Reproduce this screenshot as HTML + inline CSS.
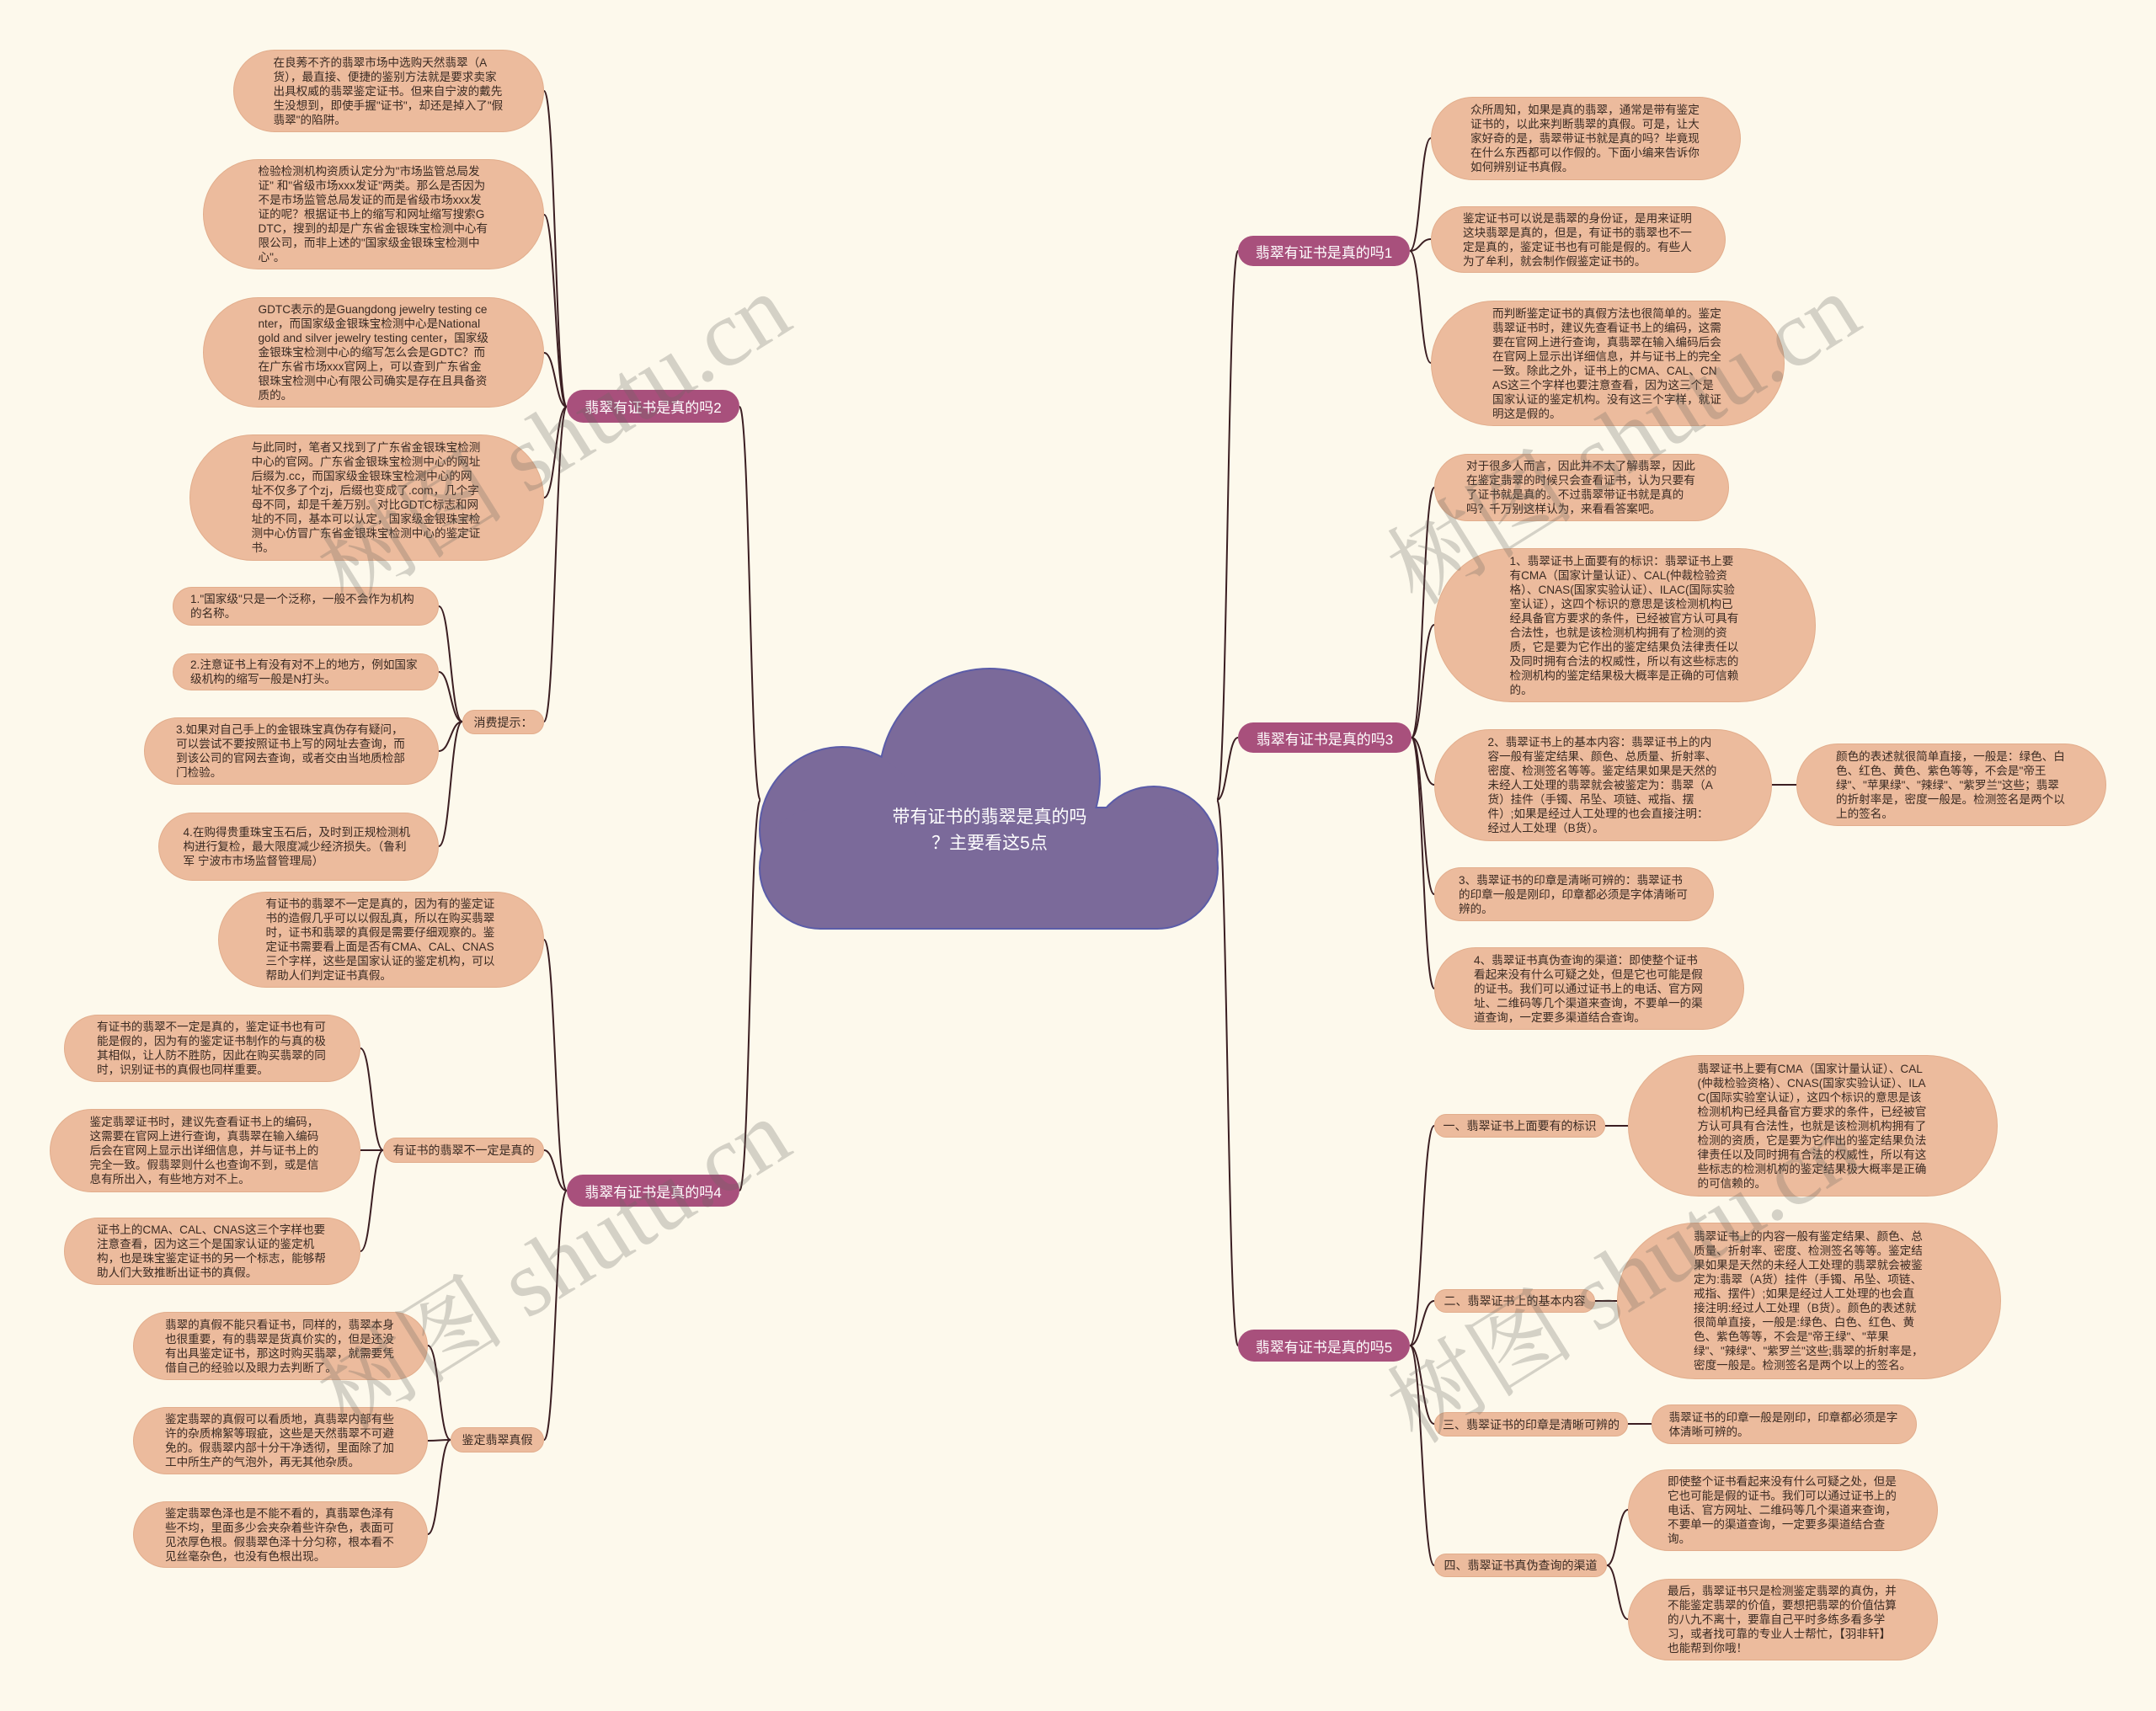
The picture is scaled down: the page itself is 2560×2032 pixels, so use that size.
<!DOCTYPE html>
<html><head><meta charset="utf-8">
<style>
html,body{margin:0;padding:0}
body{width:2560px;height:2032px;position:relative;background:#fdf9ec;overflow:hidden;font-family:"Liberation Sans","Noto Sans CJK SC",sans-serif}
.n{position:absolute;background:#ecbb9d;border:1.5px solid #e2ad8c;box-sizing:border-box;border-radius:200px;display:flex;align-items:center;justify-content:center;color:#3a2a22}
.n .t{width:274px;font-size:13.6px;line-height:17px;text-align:left;word-break:break-all}
.m{position:absolute;background:#ecbb9d;border:1.5px solid #e2ad8c;box-sizing:border-box;border-radius:40px;display:flex;align-items:center;justify-content:center;font-size:14px;color:#3a2a22;white-space:nowrap}
.L{position:absolute;background:#a8507c;border-radius:40px;display:flex;align-items:center;justify-content:center;font-size:17px;color:#fff;white-space:nowrap}
svg{position:absolute;left:0;top:0}
.wm{position:absolute;font-family:"Liberation Serif","Noto Serif CJK SC",serif;font-size:112px;color:rgba(105,105,95,0.27);white-space:nowrap;transform:translate(-50%,-50%) rotate(-32deg);pointer-events:none;z-index:5}
</style></head><body>
<svg id="lines" width="2560" height="2032"></svg>
<svg width="2560" height="2032">
 <g fill="none" stroke="#5b5ca8" stroke-width="4">
  <circle cx="1175" cy="925" r="130"/><circle cx="1000" cy="985" r="97"/><circle cx="1370" cy="1010" r="75"/><rect x="903" y="960" width="542" height="142" rx="71"/>
 </g>
 <g fill="#7b6a9a">
  <circle cx="1175" cy="925" r="130"/><circle cx="1000" cy="985" r="97"/><circle cx="1370" cy="1010" r="75"/><rect x="903" y="960" width="542" height="142" rx="71"/>
 </g>
</svg>
<div style="position:absolute;left:1000px;top:955px;width:350px;text-align:center;color:#fff;font-size:21px;line-height:31px">带有证书的翡翠是真的吗<br>？主要看这5点</div>

<div class="L" style="left:673px;top:463px;width:205px;height:39px">翡翠有证书是真的吗2</div>
<div class="L" style="left:673px;top:1395px;width:205px;height:38px">翡翠有证书是真的吗4</div>
<div class="L" style="left:1470px;top:280px;width:204px;height:36px">翡翠有证书是真的吗1</div>
<div class="L" style="left:1470px;top:858px;width:206px;height:36px">翡翠有证书是真的吗3</div>
<div class="L" style="left:1470px;top:1579px;width:204px;height:38px">翡翠有证书是真的吗5</div>

<div class="n" style="left:277px;top:59px;width:369px;height:98px"><div class="t">在良莠不齐的翡翠市场中选购天然翡翠（A货），最直接、便捷的鉴别方法就是要求卖家出具权威的翡翠鉴定证书。但来自宁波的戴先生没想到，即使手握"证书"，却还是掉入了"假翡翠"的陷阱。</div></div>
<div class="n" style="left:241px;top:189px;width:405px;height:131px"><div class="t">检验检测机构资质认定分为"市场监管总局发证" 和"省级市场xxx发证"两类。那么是否因为不是市场监管总局发证的而是省级市场xxx发证的呢？根据证书上的缩写和网址缩写搜索GDTC，搜到的却是广东省金银珠宝检测中心有限公司，而非上述的"国家级金银珠宝检测中心"。</div></div>
<div class="n" style="left:241px;top:353px;width:405px;height:131px"><div class="t">GDTC表示的是Guangdong jewelry testing center，而国家级金银珠宝检测中心是National gold and silver jewelry testing center，国家级金银珠宝检测中心的缩写怎么会是GDTC？而在广东省市场xxx官网上，可以查到广东省金银珠宝检测中心有限公司确实是存在且具备资质的。</div></div>
<div class="n" style="left:225px;top:516px;width:421px;height:150px"><div class="t">与此同时，笔者又找到了广东省金银珠宝检测中心的官网。广东省金银珠宝检测中心的网址后缀为.cc，而国家级金银珠宝检测中心的网址不仅多了个zj，后缀也变成了.com，几个字母不同，却是千差万别。对比GDTC标志和网址的不同，基本可以认定，国家级金银珠宝检测中心仿冒广东省金银珠宝检测中心的鉴定证书。</div></div>
<div class="m" style="left:549px;top:843px;width:97px;height:29px">消费提示：</div>
<div class="n" style="left:205px;top:697px;width:316px;height:46px"><div class="t">1."国家级"只是一个泛称，一般不会作为机构的名称。</div></div>
<div class="n" style="left:205px;top:776px;width:316px;height:44px"><div class="t">2.注意证书上有没有对不上的地方，例如国家级机构的缩写一般是N打头。</div></div>
<div class="n" style="left:171px;top:852px;width:350px;height:80px"><div class="t">3.如果对自己手上的金银珠宝真伪存有疑问，可以尝试不要按照证书上写的网址去查询，而到该公司的官网去查询，或者交由当地质检部门检验。</div></div>
<div class="n" style="left:188px;top:965px;width:333px;height:81px"><div class="t">4.在购得贵重珠宝玉石后，及时到正规检测机构进行复检，最大限度减少经济损失。（鲁利军 宁波市市场监督管理局）</div></div>

<div class="n" style="left:259px;top:1059px;width:387px;height:114px"><div class="t">有证书的翡翠不一定是真的，因为有的鉴定证书的造假几乎可以以假乱真，所以在购买翡翠时，证书和翡翠的真假是需要仔细观察的。鉴定证书需要看上面是否有CMA、CAL、CNAS三个字样，这些是国家认证的鉴定机构，可以帮助人们判定证书真假。</div></div>
<div class="m" style="left:455px;top:1351px;width:191px;height:30px">有证书的翡翠不一定是真的</div>
<div class="n" style="left:76px;top:1205px;width:352px;height:80px"><div class="t">有证书的翡翠不一定是真的，鉴定证书也有可能是假的，因为有的鉴定证书制作的与真的极其相似，让人防不胜防，因此在购买翡翠的同时，识别证书的真假也同样重要。</div></div>
<div class="n" style="left:59px;top:1317px;width:369px;height:99px"><div class="t">鉴定翡翠证书时，建议先查看证书上的编码，这需要在官网上进行查询，真翡翠在输入编码后会在官网上显示出详细信息，并与证书上的完全一致。假翡翠则什么也查询不到，或是信息有所出入，有些地方对不上。</div></div>
<div class="n" style="left:76px;top:1446px;width:352px;height:80px"><div class="t">证书上的CMA、CAL、CNAS这三个字样也要注意查看，因为这三个是国家认证的鉴定机构，也是珠宝鉴定证书的另一个标志，能够帮助人们大致推断出证书的真假。</div></div>
<div class="m" style="left:535px;top:1695px;width:111px;height:30px">鉴定翡翠真假</div>
<div class="n" style="left:158px;top:1558px;width:350px;height:81px"><div class="t">翡翠的真假不能只看证书，同样的，翡翠本身也很重要，有的翡翠是货真价实的，但是还没有出具鉴定证书，那这时购买翡翠，就需要凭借自己的经验以及眼力去判断了。</div></div>
<div class="n" style="left:158px;top:1671px;width:350px;height:80px"><div class="t">鉴定翡翠的真假可以看质地，真翡翠内部有些许的杂质棉絮等瑕疵，这些是天然翡翠不可避免的。假翡翠内部十分干净透彻，里面除了加工中所生产的气泡外，再无其他杂质。</div></div>
<div class="n" style="left:158px;top:1783px;width:350px;height:79px"><div class="t">鉴定翡翠色泽也是不能不看的，真翡翠色泽有些不均，里面多少会夹杂着些许杂色，表面可见浓厚色根。假翡翠色泽十分匀称，根本看不见丝毫杂色，也没有色根出现。</div></div>

<div class="n" style="left:1699px;top:115px;width:368px;height:99px"><div class="t">众所周知，如果是真的翡翠，通常是带有鉴定证书的，以此来判断翡翠的真假。可是，让大家好奇的是，翡翠带证书就是真的吗？毕竟现在什么东西都可以作假的。下面小编来告诉你如何辨别证书真假。</div></div>
<div class="n" style="left:1699px;top:245px;width:350px;height:79px"><div class="t">鉴定证书可以说是翡翠的身份证，是用来证明这块翡翠是真的，但是，有证书的翡翠也不一定是真的，鉴定证书也有可能是假的。有些人为了牟利，就会制作假鉴定证书的。</div></div>
<div class="n" style="left:1699px;top:357px;width:420px;height:149px"><div class="t">而判断鉴定证书的真假方法也很简单的。鉴定翡翠证书时，建议先查看证书上的编码，这需要在官网上进行查询，真翡翠在输入编码后会在官网上显示出详细信息，并与证书上的完全一致。除此之外，证书上的CMA、CAL、CNAS这三个字样也要注意查看，因为这三个是国家认证的鉴定机构。没有这三个字样，就证明这是假的。</div></div>
<div class="n" style="left:1703px;top:539px;width:350px;height:80px"><div class="t">对于很多人而言，因此并不太了解翡翠，因此在鉴定翡翠的时候只会查看证书，认为只要有了证书就是真的。不过翡翠带证书就是真的吗？千万别这样认为，来看看答案吧。</div></div>
<div class="n" style="left:1703px;top:651px;width:453px;height:183px"><div class="t">1、翡翠证书上面要有的标识：翡翠证书上要有CMA（国家计量认证）、CAL(仲裁检验资格）、CNAS(国家实验认证）、ILAC(国际实验室认证），这四个标识的意思是该检测机构已经具备官方要求的条件，已经被官方认可具有合法性，也就是该检测机构拥有了检测的资质，它是要为它作出的鉴定结果负法律责任以及同时拥有合法的权威性，所以有这些标志的检测机构的鉴定结果极大概率是正确的可信赖的。</div></div>
<div class="n" style="left:1703px;top:866px;width:401px;height:133px"><div class="t">2、翡翠证书上的基本内容：翡翠证书上的内容一般有鉴定结果、颜色、总质量、折射率、密度、检测签名等等。鉴定结果如果是天然的未经人工处理的翡翠就会被鉴定为：翡翠（A货）挂件（手镯、吊坠、项链、戒指、摆件）;如果是经过人工处理的也会直接注明：经过人工处理（B货）。</div></div>
<div class="n" style="left:2133px;top:883px;width:368px;height:98px"><div class="t">颜色的表述就很简单直接，一般是：绿色、白色、红色、黄色、紫色等等，不会是"帝王绿"、"苹果绿"、"辣绿"、"紫罗兰"这些；翡翠的折射率是，密度一般是。检测签名是两个以上的签名。</div></div>
<div class="n" style="left:1703px;top:1030px;width:332px;height:64px"><div class="t">3、翡翠证书的印章是清晰可辨的：翡翠证书的印章一般是刚印，印章都必须是字体清晰可辨的。</div></div>
<div class="n" style="left:1703px;top:1125px;width:368px;height:98px"><div class="t">4、翡翠证书真伪查询的渠道：即使整个证书看起来没有什么可疑之处，但是它也可能是假的证书。我们可以通过证书上的电话、官方网址、二维码等几个渠道来查询，不要单一的渠道查询，一定要多渠道结合查询。</div></div>

<div class="m" style="left:1703px;top:1323px;width:203px;height:28px">一、翡翠证书上面要有的标识</div>
<div class="n" style="left:1933px;top:1253px;width:439px;height:168px"><div class="t">翡翠证书上要有CMA（国家计量认证）、CAL(仲裁检验资格）、CNAS(国家实验认证）、ILAC(国际实验室认证），这四个标识的意思是该检测机构已经具备官方要求的条件，已经被官方认可具有合法性，也就是该检测机构拥有了检测的资质，它是要为它作出的鉴定结果负法律责任以及同时拥有合法的权威性，所以有这些标志的检测机构的鉴定结果极大概率是正确的可信赖的。</div></div>
<div class="m" style="left:1703px;top:1531px;width:191px;height:28px">二、翡翠证书上的基本内容</div>
<div class="n" style="left:1920px;top:1452px;width:456px;height:186px"><div class="t">翡翠证书上的内容一般有鉴定结果、颜色、总质量、折射率、密度、检测签名等等。鉴定结果如果是天然的未经人工处理的翡翠就会被鉴定为:翡翠（A货）挂件（手镯、吊坠、项链、戒指、摆件）;如果是经过人工处理的也会直接注明:经过人工处理（B货）。颜色的表述就很简单直接，一般是:绿色、白色、红色、黄色、紫色等等，不会是"帝王绿"、"苹果绿"、"辣绿"、"紫罗兰"这些;翡翠的折射率是，密度一般是。检测签名是两个以上的签名。</div></div>
<div class="m" style="left:1703px;top:1677px;width:230px;height:29px">三、翡翠证书的印章是清晰可辨的</div>
<div class="n" style="left:1961px;top:1668px;width:315px;height:47px"><div class="t">翡翠证书的印章一般是刚印，印章都必须是字体清晰可辨的。</div></div>
<div class="m" style="left:1703px;top:1845px;width:205px;height:28px">四、翡翠证书真伪查询的渠道</div>
<div class="n" style="left:1933px;top:1745px;width:368px;height:97px"><div class="t">即使整个证书看起来没有什么可疑之处，但是它也可能是假的证书。我们可以通过证书上的电话、官方网址、二维码等几个渠道来查询，不要单一的渠道查询，一定要多渠道结合查询。</div></div>
<div class="n" style="left:1933px;top:1875px;width:368px;height:97px"><div class="t">最后，翡翠证书只是检测鉴定翡翠的真伪，并不能鉴定翡翠的价值，要想把翡翠的价值估算的八九不离十，要靠自己平时多练多看多学习，或者找可靠的专业人士帮忙，【羽非轩】也能帮到你哦！</div></div>

<div class="wm" style="left:653px;top:514px">树图 shutu.cn</div>
<div class="wm" style="left:653px;top:1494px">树图 shutu.cn</div>
<div class="wm" style="left:1923px;top:514px">树图 shutu.cn</div>
<div class="wm" style="left:1923px;top:1510px">树图 shutu.cn</div>

<script>
var E=[
[903,950,878,483],[903,950,878,1414],[1445,950,1470,298],[1445,950,1470,876],[1445,950,1470,1598],
[673,483,646,108],[673,483,646,255],[673,483,646,419],[673,483,646,591],[673,483,646,857],
[549,857,521,720],[549,857,521,798],[549,857,521,892],[549,857,521,1005],
[673,1414,646,1116],[673,1414,646,1366],[673,1414,646,1710],
[455,1366,428,1245],[455,1366,428,1366],[455,1366,428,1486],
[535,1710,508,1598],[535,1710,508,1711],[535,1710,508,1822],
[1674,298,1699,164],[1674,298,1699,284],[1674,298,1699,431],
[1676,876,1703,579],[1676,876,1703,742],[1676,876,1703,932],[1676,876,1703,1062],[1676,876,1703,1174],
[2104,932,2133,932],
[1674,1598,1703,1337],[1674,1598,1703,1545],[1674,1598,1703,1691],[1674,1598,1703,1859],
[1906,1337,1933,1337],[1894,1545,1920,1545],[1933,1691,1961,1691],
[1908,1859,1933,1793],[1908,1859,1933,1923]];
var s='';
E.forEach(function(e){var m=(e[0]+e[2])/2;s+='<path d="M'+e[0]+' '+e[1]+' C'+m+' '+e[1]+' '+m+' '+e[3]+' '+e[2]+' '+e[3]+'" fill="none" stroke="#3b1e22" stroke-width="2"/>';});
document.getElementById('lines').innerHTML=s;
</script>
</body></html>
